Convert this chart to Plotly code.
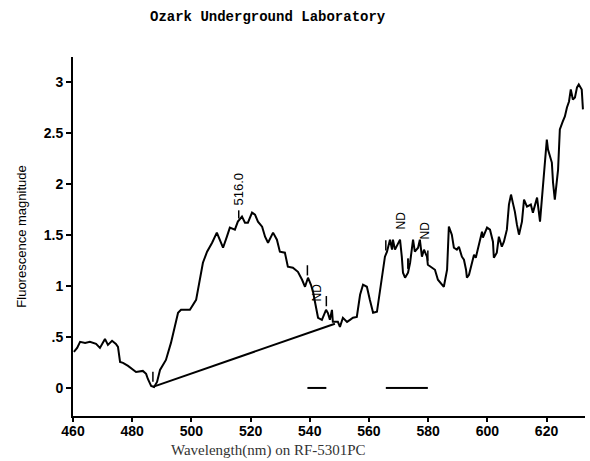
import numpy as np
import plotly.graph_objects as go

# Emission scan (wavelength in nm, fluorescence magnitude)
wavelength = [
    460.3, 461.4, 462.4, 464.1, 465.7, 467.8, 469.1, 470.8, 471.8, 473.2,
    474.5, 475.2, 475.9, 476.9, 478.6, 479.6, 481.3, 483.6, 484.7, 485.3,
    486.4, 487.4, 488.4, 489.4, 491.4, 493.1, 494.5, 495.5, 496.5, 498.2,
    499.5, 501.6, 502.9, 503.9, 505.3, 507.0, 508.6, 509.7, 510.7, 512.0,
    513.0, 514.7, 515.7, 517.1, 518.1, 519.1, 520.5, 521.5, 522.5, 523.9,
    524.9, 525.9, 527.6, 528.9, 529.9, 531.6, 532.6, 534.3, 536.0, 537.4,
    538.4, 539.4, 540.4, 541.1, 541.8, 542.8, 544.1, 544.5, 545.5, 546.1,
    546.8, 547.5, 547.8, 549.5, 550.2, 551.2, 552.6, 553.6, 554.6, 555.9,
    556.3, 557.0, 558.0, 559.3, 560.3, 561.0, 561.4, 562.7, 563.7, 564.7,
    565.4, 566.1, 567.1, 567.8, 568.1, 568.8, 569.8, 570.5, 571.1, 571.5,
    572.2, 573.2, 573.9, 574.9, 575.5, 576.6, 577.2, 577.9, 578.6, 579.6,
    579.9, 581.3, 582.3, 583.3, 584.7, 585.3, 586.4, 587.0, 588.0, 588.7,
    589.7, 590.4, 591.4, 592.1, 592.8, 593.1, 593.8, 594.8, 595.5, 596.1,
    596.8, 598.2, 598.5, 599.9, 600.9, 601.9, 602.2, 603.2, 603.9, 604.9,
    605.6, 606.6, 607.3, 608.0, 608.6, 609.3, 610.0, 610.7, 611.7, 612.4,
    613.4, 614.7, 615.4, 616.8, 617.8, 618.8, 620.1, 620.5, 621.8, 622.2,
    622.8, 623.9, 624.5, 625.5, 626.2, 626.9, 627.6, 628.2, 628.9, 629.6,
    630.3, 630.9, 631.9, 632.3,
]
magnitude = [
    0.354, 0.393, 0.452, 0.442, 0.452, 0.432, 0.393, 0.481, 0.422, 0.462,
    0.432, 0.403, 0.255, 0.246, 0.216, 0.196, 0.157, 0.167, 0.138, 0.088,
    0.020, 0.010, 0.059, 0.177, 0.275, 0.442, 0.599, 0.737, 0.766, 0.766,
    0.766, 0.864, 1.090, 1.228, 1.336, 1.424, 1.523, 1.454, 1.375, 1.483,
    1.572, 1.552, 1.631, 1.680, 1.621, 1.621, 1.719, 1.699, 1.631, 1.582,
    1.483, 1.424, 1.523, 1.454, 1.336, 1.326, 1.189, 1.179, 1.139, 1.061,
    0.992, 1.081, 1.012, 0.943, 0.835, 0.688, 0.668, 0.697, 0.766, 0.737,
    0.668, 0.766, 0.648, 0.648, 0.599, 0.688, 0.648, 0.668, 0.688, 0.697,
    0.786, 0.914, 1.012, 0.992, 0.864, 0.766, 0.737, 0.747, 0.933, 1.159,
    1.287, 1.336, 1.454, 1.356, 1.454, 1.356, 1.424, 1.454, 1.287, 1.130,
    1.081, 1.130, 1.228, 1.454, 1.336, 1.375, 1.454, 1.287, 1.356, 1.287,
    1.208, 1.179, 1.159, 1.061, 1.012, 0.992, 1.159, 1.582, 1.503, 1.375,
    1.356, 1.385, 1.287, 1.257, 1.159, 1.081, 1.110, 1.228, 1.306, 1.277,
    1.356, 1.532, 1.473, 1.572, 1.552, 1.434, 1.277, 1.326, 1.483, 1.385,
    1.434, 1.552, 1.798, 1.896, 1.817, 1.729, 1.601, 1.503, 1.631, 1.847,
    1.778, 1.798, 1.719, 1.866, 1.631, 1.994, 2.436, 2.338, 2.210, 2.014,
    1.847, 2.141, 2.534, 2.613, 2.662, 2.750, 2.809, 2.927, 2.829, 2.849,
    2.947, 2.976, 2.927, 2.731,
]

# Peak picked on the scan
peak_nm = 516.0
peak_label = "516.0"

# Baseline drawn under the peak (start and end wavelength / magnitude)
baseline_nm = [487.0, 548.5]
baseline_mag = [0.01, 0.63]

# Not-detected windows (start, end wavelength) and where each "ND" is written
nd_start = [539.2, 565.7, 573.2]
nd_end = [545.6, 573.2, 579.9]
nd_label_nm = [542.4, 570.5, 578.6]

# Axis ticks
x_ticks = [460, 480, 500, 520, 540, 560, 580, 600, 620]
y_ticks = [0, 0.5, 1, 1.5, 2, 2.5, 3]
y_tick_text = ["0", ".5", "1", "1.5", "2", "2.5", "3"]

wl = np.array(wavelength)
mg = np.array(magnitude)


def curve_at(x):
    return float(np.interp(x, wl, mg))


fig = go.Figure()

fig.add_trace(go.Scatter(
    x=wavelength, y=magnitude, mode="lines",
    line=dict(color="black", width=2), hoverinfo="skip", showlegend=False,
))

fig.add_trace(go.Scatter(
    x=baseline_nm, y=baseline_mag, mode="lines",
    line=dict(color="black", width=2), hoverinfo="skip", showlegend=False,
))

# ND windows along zero, with end bars above the trace
for s, e in zip(nd_start, nd_end):
    fig.add_trace(go.Scatter(
        x=[s, e], y=[0, 0], mode="lines",
        line=dict(color="black", width=2), hoverinfo="skip", showlegend=False,
    ))
    for b in (s, e):
        c = curve_at(b)
        fig.add_shape(type="line", x0=b, x1=b, y0=c + 0.04, y1=c + 0.14,
                      line=dict(color="black", width=1.5))

for xn in nd_label_nm:
    fig.add_annotation(
        x=xn, y=curve_at(xn) + 0.08, text="ND", textangle=-90,
        showarrow=False, xanchor="center", yanchor="bottom",
        font=dict(family="Liberation Sans", size=12, color="black"),
    )

# Baseline start tick
fig.add_shape(type="line", x0=baseline_nm[0], x1=baseline_nm[0],
              y0=baseline_mag[0] + 0.05, y1=baseline_mag[0] + 0.15,
              line=dict(color="black", width=1.5))

# Peak tick and label
pk = curve_at(peak_nm)
fig.add_shape(type="line", x0=peak_nm, x1=peak_nm, y0=pk + 0.02, y1=pk + 0.1,
              line=dict(color="black", width=1.5))
fig.add_annotation(
    x=peak_nm, y=pk + 0.13, text=peak_label, textangle=-90,
    showarrow=False, xanchor="center", yanchor="bottom",
    font=dict(family="Liberation Sans", size=13, color="black"),
)

# Titles
fig.add_annotation(
    xref="paper", yref="paper", x=0.381, y=1.0, yshift=40,
    text="<b>Ozark Underground Laboratory</b>", showarrow=False,
    xanchor="center", yanchor="middle",
    font=dict(family="Liberation Mono", size=14, color="black"),
)
fig.add_annotation(
    xref="paper", yref="paper", x=0.381, y=0, yshift=-34,
    text="Wavelength(nm) on RF-5301PC", showarrow=False,
    xanchor="center", yanchor="middle",
    font=dict(family="Liberation Serif", size=15, color="#333333"),
)

fig.update_layout(
    width=590, height=461,
    margin=dict(l=73, r=5, t=57, b=45),
    paper_bgcolor="white", plot_bgcolor="white",
    showlegend=False,
    font=dict(family="Liberation Sans", color="black"),
    xaxis=dict(
        range=[460, 633], tickvals=x_ticks,
        ticktext=[f"<b>{v}</b>" for v in x_ticks],
        showgrid=False, zeroline=False, showline=True,
        linecolor="black", linewidth=2, ticks="outside",
        ticklen=4, tickwidth=2, tickcolor="black",
        ticklabelstandoff=-3,
        tickfont=dict(family="Liberation Sans", size=14, color="black"),
    ),
    yaxis=dict(
        range=[-0.275, 3.245], tickvals=y_ticks,
        ticktext=[f"<b>{t}</b>" for t in y_tick_text],
        showgrid=False, zeroline=False, showline=True,
        linecolor="black", linewidth=2, ticks="outside",
        ticklen=5, tickwidth=2, tickcolor="black",
        tickfont=dict(family="Liberation Sans", size=14, color="black"),
        title=dict(text="Fluorescence magnitude", standoff=14,
                   font=dict(family="Liberation Sans", size=13, color="black")),
    ),
)

fig.write_html("out.html")
